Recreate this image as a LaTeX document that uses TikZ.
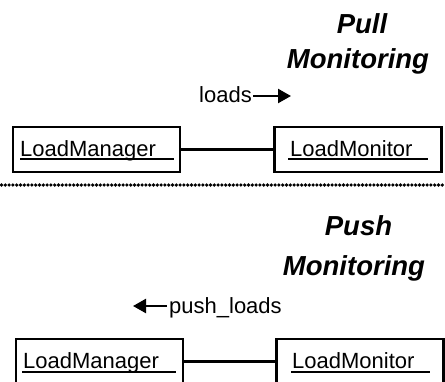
\documentclass[tikz,border=0pt]{standalone}
\usepackage{fontspec}
\setmainfont{Liberation Sans}
\usetikzlibrary{arrows.meta}
\tikzset{
  objbox/.style={draw, line width=2.4pt, minimum width=167pt, minimum height=45pt, inner sep=0pt},
  objname/.style={anchor=base west, inner sep=0pt, font=\fontsize{22}{26}\selectfont},
  uline/.style={line width=2.2pt},
  link/.style={line width=2.4pt},
  msg/.style={anchor=base west, inner sep=0pt, font=\fontsize{22}{26}\selectfont},
  msgarrow/.style={line width=2.4pt, -{Triangle[length=13pt,width=14pt]}},
  title/.style={anchor=base, inner sep=0pt, font=\fontsize{27.5}{32}\selectfont\bfseries\itshape},
  divider/.style={line width=3.6pt, dash pattern=on 0pt off 3.8pt, line cap=round}
}
\begin{document}
\begin{tikzpicture}[x=1pt,y=-1pt]
\useasboundingbox (0,0) rectangle (445,381);
\clip (0,0) rectangle (445,381);

% ---- pull monitoring ----
\node[title] (pulltitle) at (362,33) {Pull};
\node[title] (pullmon) at (358,68) {Monitoring};

\node[msg] (loads) at (199,102) {loads};
\coordinate (loadsS) at (253,96);
\coordinate (loadsE) at (291,96);
\draw[msgarrow] (loadsS) -- (loadsE);

\node[objbox] (mgr1) at (96.3,149.5) {};
\node[objbox] (mon1) at (358,149.5) {};
\draw[link] (mgr1.east) -- (mon1.west);

\node[objname] (mgr1t) at (20,156) {LoadManager};
\coordinate (mgr1uA) at (20,159);
\coordinate (mgr1uB) at (174,159);
\draw[uline] (mgr1uA) -- (mgr1uB);

\node[objname] (mon1t) at (290,156) {LoadMonitor};
\coordinate (mon1uA) at (288,159);
\coordinate (mon1uB) at (428,159);
\draw[uline] (mon1uA) -- (mon1uB);

% ---- divider ----
\coordinate (divA) at (1.5,185);
\coordinate (divB) at (445,185);
\draw[divider] (divA) -- (divB);

% ---- push monitoring ----
\node[title] (pushtitle) at (358.5,235) {Push};
\node[title] (pushmon) at (354,275) {Monitoring};

\node[msg] (pushloads) at (169,313) {push\_loads};
\coordinate (pushS) at (167,306);
\coordinate (pushE) at (133,306);
\draw[msgarrow] (pushS) -- (pushE);

\node[objbox] (mgr2) at (99.5,361.5) {};
\node[objbox] (mon2) at (360,361.5) {};
\draw[link] (mgr2.east) -- (mon2.west);

\node[objname] (mgr2t) at (23,368) {LoadManager};
\coordinate (mgr2uA) at (22,372);
\coordinate (mgr2uB) at (176,372);
\draw[uline] (mgr2uA) -- (mgr2uB);

\node[objname] (mon2t) at (292,368) {LoadMonitor};
\coordinate (mon2uA) at (291,372);
\coordinate (mon2uB) at (430,372);
\draw[uline] (mon2uA) -- (mon2uB);
\end{tikzpicture}
\end{document}
